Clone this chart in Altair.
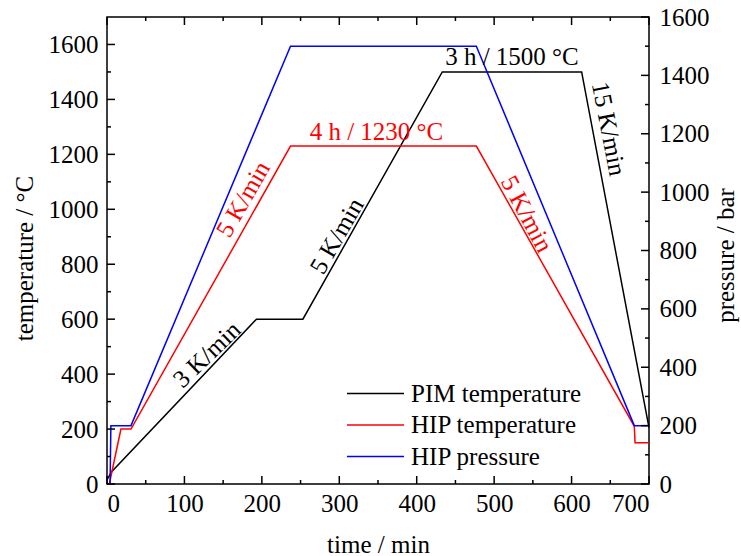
import altair as alt
import pandas as pd

# ---- data ----
series_names = ["PIM temperature", "HIP temperature", "HIP pressure"]
series_colors = ["#000000", "#ff0000", "#0000ff"]

pim_time = [0, 6, 193, 253, 433, 613, 700]
pim_temp = [15, 45, 600, 600, 1500, 1500, 205]

hipT_time = [3, 18, 31, 237, 477, 681, 682, 700]
hipT_temp = [0, 200, 200, 1230, 1230, 210, 150, 150]

hipP_time = [4, 5, 31, 237, 477, 681, 700]
hipP_pres = [0, 200, 200, 1500, 1500, 200, 200]

x_major = [0, 100, 200, 300, 400, 500, 600, 700]
x_minor = [50, 150, 250, 350, 450, 550, 650]
t_major = [0, 200, 400, 600, 800, 1000, 1200, 1400, 1600]
t_minor = [100, 300, 500, 700, 900, 1100, 1300, 1500]
p_major = [0, 200, 400, 600, 800, 1000, 1200, 1400, 1600]
p_minor = [100, 300, 500, 700, 900, 1100, 1300, 1500]

ann_black_text = ["3 K/min", "5 K/min", "15 K/min", "3 h / 1500 °C"]
ann_black_t = [129, 297, 648, 523]
ann_black_v = [471, 903, 1293, 1556]
ann_black_angle = [316, 300, 79, 0]

ann_red_text = ["5 K/min", "4 h / 1230 °C", "5 K/min"]
ann_red_t = [176, 348, 542]
ann_red_v = [1037, 1282, 983]
ann_red_angle = [300, 0, 62]

# ---- tables ----
temp_rows = []
for i, (t, v) in enumerate(zip(pim_time, pim_temp)):
    temp_rows.append({"t": t, "v": v, "series": series_names[0], "idx": i})
for i, (t, v) in enumerate(zip(hipT_time, hipT_temp)):
    temp_rows.append({"t": t, "v": v, "series": series_names[1], "idx": i})
temp_df = pd.DataFrame(temp_rows)
press_df = pd.DataFrame({"t": hipP_time, "v": hipP_pres,
                         "series": series_names[2], "idx": list(range(len(hipP_time)))})
black_df = pd.DataFrame({"t": ann_black_t, "v": ann_black_v, "txt": ann_black_text, "ang": ann_black_angle})
red_df = pd.DataFrame({"t": ann_red_t, "v": ann_red_v, "txt": ann_red_text, "ang": ann_red_angle})

FONT = "Liberation Serif"
FS = 25
W, H = 542, 467
MAJ, MIN = 8, 4

xs = alt.Scale(domain=[0, 700], nice=False, zero=False)
yT = alt.Scale(domain=[0, 1700], nice=False)
yP = alt.Scale(domain=[0, 1600], nice=False)
cs = alt.Scale(domain=series_names, range=series_colors)

legend = alt.Legend(title=None, orient="none", legendX=239, legendY=364,
                    symbolType="stroke", symbolSize=3250, symbolStrokeWidth=1.5,
                    labelFont=FONT, labelFontSize=FS, labelColor="black", labelLimit=0,
                    labelOffset=6, rowPadding=5.5, padding=0, clipHeight=25)

temp_layer = alt.Chart(temp_df).mark_line(strokeWidth=1.5).encode(
    x=alt.X("t:Q", scale=xs, axis=alt.Axis(
        orient="bottom", title="time / min", values=x_major, format="d", ticks=False, tickSize=0,
        domain=False, labelPadding=7, titleX=W / 2, titleY=60, titleBaseline="middle",
        titleAlign="center")),
    y=alt.Y("v:Q", scale=yT, axis=alt.Axis(
        orient="left", title="temperature / °C", values=t_major, format="d", ticks=False, tickSize=0,
        domain=False, labelPadding=9, titleX=-83, titleY=241, titleAngle=270,
        titleBaseline="middle", titleAlign="center")),
    color=alt.Color("series:N", scale=cs, legend=legend),
    order=alt.Order("idx:Q"),
)

press_layer = alt.Chart(press_df).mark_line(strokeWidth=1.5).encode(
    x=alt.X("t:Q", scale=xs, axis=None),
    y=alt.Y("v:Q", scale=yP, axis=alt.Axis(
        orient="right", title="pressure / bar", values=p_major, format="d", ticks=False, tickSize=0,
        domain=False, labelPadding=10, titleX=76, titleY=238, titleAngle=270,
        titleBaseline="middle", titleAlign="center")),
    color=alt.Color("series:N", scale=cs, legend=legend),
    order=alt.Order("idx:Q"),
)


def xticks(vals, y0, y1):
    return alt.Chart(pd.DataFrame({"t": vals})).mark_rule(color="black", strokeWidth=1.5).encode(
        x=alt.X("t:Q", scale=xs, axis=None),
        y=alt.value(y0), y2=alt.value(y1),
    )


def yticks(vals, scale, x0, x1):
    return alt.Chart(pd.DataFrame({"v": vals})).mark_rule(color="black", strokeWidth=1.5).encode(
        y=alt.Y("v:Q", scale=scale, axis=None),
        x=alt.value(x0), x2=alt.value(x1),
    )


tick_layers = [
    xticks(x_major, H, H - MAJ), xticks(x_minor, H, H - MIN),
    xticks(x_major, 0, MAJ), xticks(x_minor, 0, MIN),
    yticks(t_major, yT, 0, MAJ), yticks(t_minor, yT, 0, MIN),
    yticks(p_major, yP, W, W - MAJ), yticks(p_minor, yP, W, W - MIN),
]


def text_layer(df, color):
    return alt.Chart(df).mark_text(font=FONT, fontSize=FS, color=color,
                                   baseline="middle", align="center").encode(
        x=alt.X("t:Q", scale=xs, axis=None),
        y=alt.Y("v:Q", scale=yT, axis=None),
        text="txt:N",
        angle=alt.Angle("ang:Q", scale=None),
    )


chart = alt.layer(
    temp_layer, press_layer, *tick_layers,
    text_layer(black_df, "black"), text_layer(red_df, "#ff0000"),
).resolve_scale(y="independent").resolve_axis(x="independent", y="independent").properties(
    width=W, height=H,
    background="white",
    autosize=alt.AutoSizeParams(type="none"),
    padding={"left": 107, "top": 17, "right": 92, "bottom": 72},
).configure_view(stroke="black", strokeWidth=1.5).configure_axis(
    labelFont=FONT, labelFontSize=FS, labelColor="black",
    titleFont=FONT, titleFontSize=FS, titleColor="black", titleFontWeight="normal",
    grid=False,
)

chart.save("out.html", embed_options={"renderer": "svg", "actions": False})
